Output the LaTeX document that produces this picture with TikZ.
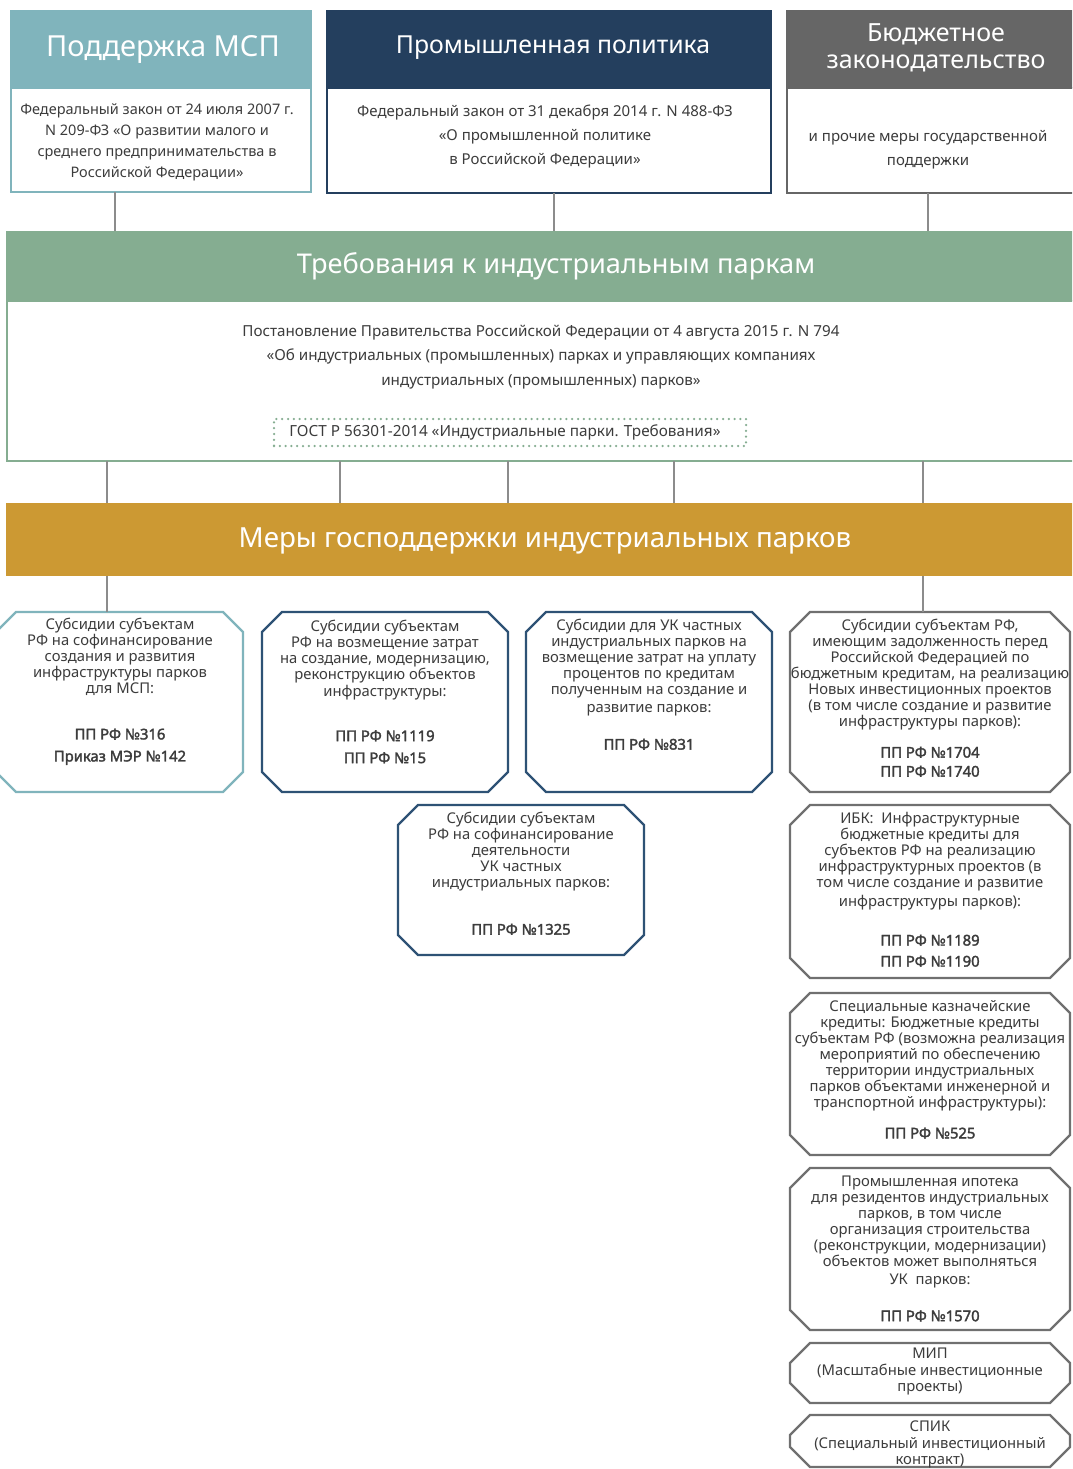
\documentclass[tikz,border=0pt]{standalone}
\usepackage{fontspec}
\setmainfont{Noto Sans}
\newfontfamily\boldfam{Noto Sans}[FakeBold=2.2]
\newcommand{\bb}[1]{{\boldfam #1}}
\usetikzlibrary{calc}
\definecolor{cteal}{HTML}{80B4BC}
\definecolor{cnavy}{HTML}{243F5E}
\definecolor{cnavyb}{HTML}{2E5275}
\definecolor{cgrayh}{HTML}{666666}
\definecolor{cgrayb}{HTML}{707070}
\definecolor{cgreen}{HTML}{85AD91}
\definecolor{cgold}{HTML}{CC9933}
\definecolor{ctext}{HTML}{3C3C3C}
\definecolor{cconn}{HTML}{8C8C8C}
\tikzset{
  boxn/.style={anchor=north west, inner sep=0pt, outer sep=0pt},
  conn/.style={draw=cconn, line width=2pt},
  octline/.style={line width=2.4pt, line join=miter},
  wt/.style={text=white, inner sep=0pt, align=center},
  bt/.style={text=ctext, inner sep=0pt, align=center},
  octtext/.style={bt, font=\fontsize{14.8}{16}\selectfont},
}
\newcommand{\octagonbox}[6]{%
  \draw[octline, draw=#6] (#2+20,#3) -- (#4-20,#3) -- (#4,#3+20) -- (#4,#5-20) -- (#4-20,#5) -- (#2+20,#5) -- (#2,#5-20) -- (#2,#3+20) -- cycle;
  \coordinate (#1) at ({(#2+#4)/2},#3);
}
\begin{document}
\begin{tikzpicture}[x=1pt,y=-1pt]
\useasboundingbox (0,0) rectangle (1072,1469);
\fill[white] (0,0) rectangle (1072,1469);
\clip (0,0) rectangle (1072,1469);

% connector x positions
\coordinate (cA) at (115,0);
\coordinate (cB) at (554,0);
\coordinate (cC) at (928,0);
\coordinate (m1) at (107,0);
\coordinate (m2) at (340,0);
\coordinate (m3) at (508,0);
\coordinate (m4) at (674,0);
\coordinate (m5) at (923,0);

% header boxes
\node[boxn, fill=cteal, minimum width=302pt, minimum height=78pt] (hA) at (10,10) {};
\node[boxn, draw=cteal, line width=2pt, minimum width=300pt, minimum height=104pt] (bA) at (11,88) {};
\node[boxn, fill=cnavy, minimum width=446pt, minimum height=78pt] (hB) at (326,10) {};
\node[boxn, draw=cnavy, line width=2pt, minimum width=444pt, minimum height=105pt] (bB) at (327,88) {};
\node[boxn, fill=cgrayh, minimum width=304pt, minimum height=78pt] (hC) at (786,10) {};
\node[boxn, draw=cgrayh, line width=2pt, minimum width=302pt, minimum height=105pt] (bC) at (787,88) {};

\node[wt, font=\fontsize{29}{32}\selectfont] (tA) at (163,49) {Поддержка МСП};
\node[wt, font=\fontsize{24.8}{28}\selectfont] (tB) at (553,48) {Промышленная политика};
\node[wt, font=\fontsize{25}{27}\selectfont] (tC) at (936,48) {Бюджетное\\законодательство};

\node[bt, font=\fontsize{14.5}{21}\selectfont] (xA) at (157,142.5) {Федеральный закон от 24 июля 2007 г.\\N 209-ФЗ «О развитии малого и\\среднего предпринимательства в\\Российской Федерации»};
\node[bt, font=\fontsize{15}{24}\selectfont] (xB) at (545,137) {Федеральный закон от 31 декабря 2014 г. N 488-ФЗ\\«О промышленной политике\\в Российской Федерации»};
\node[bt, font=\fontsize{15}{24}\selectfont] (xC) at (928,150) {и прочие меры государственной\\поддержки};

% green block
\node[boxn, fill=cgreen, minimum width=1090pt, minimum height=70pt] (green) at (6,231) {};
\node[boxn, draw=cgreen, line width=2pt, minimum width=1090pt, minimum height=160pt] (gbody) at (7,301) {};
\node[wt, font=\fontsize{27.2}{30}\selectfont] (tG) at (556,266) {Требования к индустриальным паркам};
\node[bt, font=\fontsize{15.2}{24.5}\selectfont] (xG) at (541,357) {Постановление Правительства Российской Федерации от 4 августа 2015 г. N 794\\«Об индустриальных (промышленных) парках и управляющих компаниях\\индустриальных (промышленных) парков»};
\node[draw=cgreen, line width=2.5pt, dash pattern=on 0pt off 5.8pt, line cap=round, minimum width=472pt, minimum height=27pt, inner sep=0pt] (gost) at (510,432.5) {};
\node[bt, font=\fontsize{15.3}{18}\selectfont] (xgost) at (505,432) {ГОСТ Р 56301-2014 «Индустриальные парки. Требования»};

% gold block
\node[boxn, fill=cgold, minimum width=1090pt, minimum height=73pt] (gold) at (6,503) {};
\node[wt, font=\fontsize{27.7}{30}\selectfont] (tM) at (545,541) {Меры господдержки индустриальных парков};

% connectors
\draw[conn] (cA |- bA.south) -- (cA |- green.north);
\draw[conn] (cB |- bB.south) -- (cB |- green.north);
\draw[conn] (cC |- bC.south) -- (cC |- green.north);
\foreach \c in {m1,m2,m3,m4,m5} {
  \draw[conn] (\c |- gbody.south) -- (\c |- gold.north);
}

% octagons
\octagonbox{o1}{-4}{612}{243}{792}{cteal}
\octagonbox{o2}{262}{612}{508}{792}{cnavyb}
\octagonbox{o3}{526}{612}{772}{792}{cnavyb}
\octagonbox{o4}{790}{612}{1070}{792}{cgrayb}
\octagonbox{o5}{398}{805}{644}{955}{cnavyb}
\octagonbox{o6}{790}{805}{1070}{978}{cgrayb}
\octagonbox{o7}{790}{993}{1070}{1155}{cgrayb}
\octagonbox{o8}{790}{1168}{1070}{1330}{cgrayb}
\octagonbox{o9}{790}{1343}{1070}{1403}{cgrayb}
\octagonbox{o10}{790}{1415}{1070}{1467}{cgrayb}

\draw[conn] (m1 |- gold.south) -- (m1 |- o1);
\draw[conn] (m5 |- gold.south) -- (m5 |- o4);

\node[octtext] (t1) at (120,691.5) {Субсидии субъектам\\РФ на софинансирование\\создания и развития\\инфраструктуры парков\\для МСП:\\[30pt]\bb{ПП РФ №316}\\[6pt]\bb{Приказ МЭР №142}};
\node[octtext] (t2) at (385,691.5) {Субсидии субъектам\\РФ на возмещение затрат\\на создание, модернизацию,\\реконструкцию объектов\\[1pt]инфраструктуры:\\[29pt]\bb{ПП РФ №1119}\\[6pt]\bb{ПП РФ №15}};
\node[octtext] (t3) at (649,684.5) {Субсидии для УК частных\\индустриальных парков на\\возмещение затрат на уплату\\процентов по кредитам\\полученным на создание и\\[2pt]развитие парков:\\[21pt]\bb{ПП РФ №831}};
\node[octtext] (t4) at (930,698) {Субсидии субъектам РФ,\\имеющим задолженность перед\\Российской Федерацией по\\бюджетным кредитам, на реализацию\\Новых инвестиционных проектов\\(в том числе создание и развитие\\инфраструктуры парков):\\[15pt]\bb{ПП РФ №1704}\\[3pt]\bb{ПП РФ №1740}};
\node[octtext] (t5) at (521,873.5) {Субсидии субъектам\\РФ на софинансирование\\деятельности\\УК частных\\индустриальных парков:\\[31pt]\bb{ПП РФ №1325}};
\node[octtext] (t6) at (930,889.5) {ИБК:\ \ Инфраструктурные\\бюджетные кредиты для\\субъектов РФ на реализацию\\инфраструктурных проектов (в\\том числе создание и развитие\\[3pt]инфраструктуры парков):\\[23pt]\bb{ПП РФ №1189}\\[5pt]\bb{ПП РФ №1190}};
\node[octtext] (t7) at (930,1069.5) {Специальные казначейские\\кредиты: Бюджетные кредиты\\субъектам РФ (возможна реализация\\мероприятий по обеспечению\\территории индустриальных\\парков объектами инженерной и\\транспортной инфраструктуры):\\[15pt]\bb{ПП РФ №525}};
\node[octtext] (t8) at (930,1248.5) {Промышленная ипотека\\для резидентов индустриальных\\парков, в том числе\\организация строительства\\(реконструкции, модернизации)\\объектов может выполняться\\[2pt]УК\ \ парков:\\[21pt]\bb{ПП РФ №1570}};
\node[octtext, font=\fontsize{14.8}{16.5}\selectfont] (t9) at (930,1371.5) {МИП\\(Масштабные инвестиционные\\проекты)};
\node[octtext, font=\fontsize{14.8}{16.5}\selectfont] (t10) at (930,1444.5) {СПИК\\(Специальный инвестиционный\\контракт)};
\end{tikzpicture}
\end{document}
